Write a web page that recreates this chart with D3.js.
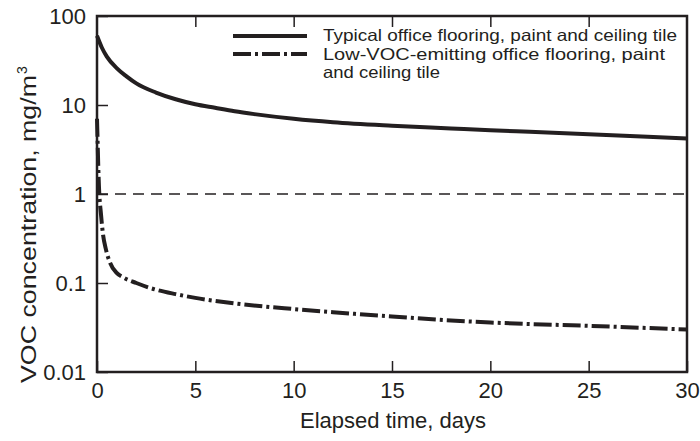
<!DOCTYPE html>
<html>
<head>
<meta charset="utf-8">
<script src="https://cdn.jsdelivr.net/npm/d3@7"></script>
<style>
  body { margin: 0; background: #fff; }
  svg text { font-family: "Liberation Sans", Arial, sans-serif; fill: #231f20; }
</style>
</head>
<body>
<div id="chart"></div>
<script>
// data
const typicalDays = [0, 0.25, 0.5, 1, 1.5, 2, 3, 4, 5, 6, 7, 8, 10, 12, 15, 18, 20, 22, 25, 28, 30];
const typicalConc = [60, 44, 35, 26, 21, 17.5, 13.8, 11.6, 10.2, 9.3, 8.5, 7.9, 7.0, 6.4, 5.85, 5.45, 5.2, 5.0, 4.7, 4.4, 4.2];

const lowDays = [0, 0.03, 0.06, 0.1, 0.2, 0.3, 0.45, 0.66, 1, 1.35, 2, 2.7, 4, 5, 7, 10, 12, 15, 18, 20, 25, 30];
const lowConc = [7, 4, 2.2, 1.2, 0.6, 0.36, 0.24, 0.17, 0.13, 0.115, 0.1, 0.088, 0.075, 0.068, 0.059, 0.051, 0.047, 0.042, 0.038, 0.036, 0.033, 0.030];

const xTicks = [0, 5, 10, 15, 20, 25, 30];
const yTicks = [100, 10, 1, 0.1, 0.01];
const yTickLabels = ["100", "10", "1", "0.1", "0.01"];
const legendLines = [
  {text: "Typical office flooring, paint and ceiling tile", len: 354},
  {text: "Low-VOC-emitting office flooring, paint", len: 342},
  {text: "and ceiling tile", len: 117}
];
const referenceLevel = 1;

// setup
const width = 700, height = 441;
const margin = {top: 16, right: 13, bottom: 69, left: 97};
const ink = "#231f20";

const svg = d3.select("#chart").append("svg")
    .attr("width", width)
    .attr("height", height);

const x = d3.scaleLinear()
    .domain([0, 30])
    .range([margin.left, width - margin.right]);

const y = d3.scaleLog()
    .domain([0.01, 100])
    .range([height - margin.bottom, margin.top]);

// axes, ticks pointing inward
const tickLen = 11;

svg.append("g")
    .attr("transform", `translate(0,${height - margin.bottom})`)
    .call(d3.axisBottom(x).tickValues(xTicks).tickSizeInner(-tickLen).tickSizeOuter(0).tickPadding(10))
    .call(g => g.select(".domain").remove())
    .call(g => g.selectAll("line").attr("stroke", ink).attr("stroke-width", 1.5))
    .call(g => g.selectAll("text").attr("font-size", 22));

svg.append("g")
    .attr("transform", `translate(0,${margin.top})`)
    .call(d3.axisTop(x).tickValues(xTicks.slice(1, -1)).tickSizeInner(-tickLen).tickSizeOuter(0).tickFormat(""))
    .call(g => g.select(".domain").remove())
    .call(g => g.selectAll("line").attr("stroke", ink).attr("stroke-width", 1.5));

svg.append("g")
    .attr("transform", `translate(${margin.left},0)`)
    .call(d3.axisLeft(y).tickValues(yTicks).tickSizeInner(-tickLen).tickSizeOuter(0).tickPadding(11)
      .tickFormat((d, i) => yTickLabels[i]))
    .call(g => g.select(".domain").remove())
    .call(g => g.selectAll("line").attr("stroke", ink).attr("stroke-width", 1.5))
    .call(g => g.selectAll("text").attr("font-size", 22));

// frame
svg.append("rect")
    .attr("x", x(0))
    .attr("y", y(100))
    .attr("width", x(30) - x(0))
    .attr("height", y(0.01) - y(100))
    .attr("fill", "none")
    .attr("stroke", ink)
    .attr("stroke-width", 2.5);

// reference line at 1 mg/m3
svg.append("line")
    .attr("x1", x(0))
    .attr("x2", x(30))
    .attr("y1", y(referenceLevel))
    .attr("y2", y(referenceLevel))
    .attr("stroke", ink)
    .attr("stroke-width", 1.3)
    .attr("stroke-dasharray", "11,7");

// curves
const line = d3.line()
    .x(d => x(d[0]))
    .y(d => y(d[1]))
    .curve(d3.curveMonotoneX);

const dashDot = "18,4,3,4";

svg.append("path")
    .datum(d3.zip(typicalDays, typicalConc))
    .attr("d", line)
    .attr("fill", "none")
    .attr("stroke", ink)
    .attr("stroke-width", 4);

svg.append("path")
    .datum(d3.zip(lowDays, lowConc))
    .attr("d", line)
    .attr("fill", "none")
    .attr("stroke", ink)
    .attr("stroke-width", 4)
    .attr("stroke-dasharray", dashDot);

// legend
const legend = svg.append("g").attr("class", "legend");

legend.append("line")
    .attr("x1", 233).attr("x2", 307)
    .attr("y1", 36).attr("y2", 36)
    .attr("stroke", ink).attr("stroke-width", 4);

legend.append("line")
    .attr("x1", 233).attr("x2", 307)
    .attr("y1", 54).attr("y2", 54)
    .attr("stroke", ink).attr("stroke-width", 4)
    .attr("stroke-dasharray", dashDot);

legend.selectAll("text")
  .data(legendLines)
    .enter()
  .append("text")
    .text(d => d.text)
    .attr("x", 323)
    .attr("y", (d, i) => 41 + i * 18.5)
    .attr("font-size", 16.5)
    .attr("textLength", d => d.len)
    .attr("lengthAdjust", "spacingAndGlyphs");

// axis titles
svg.append("text")
    .text("Elapsed time, days")
    .attr("x", 393)
    .attr("y", 428)
    .attr("text-anchor", "middle")
    .attr("font-size", 22);

const yTitle = svg.append("g")
    .attr("transform", "translate(36,383) rotate(-90)");
yTitle.append("text")
    .text("VOC concentration, mg/m")
    .attr("font-size", 22)
    .attr("textLength", 308)
    .attr("lengthAdjust", "spacingAndGlyphs");
yTitle.append("text")
    .text("3")
    .attr("x", 309)
    .attr("y", -9)
    .attr("font-size", 14);
</script>
</body>
</html>
